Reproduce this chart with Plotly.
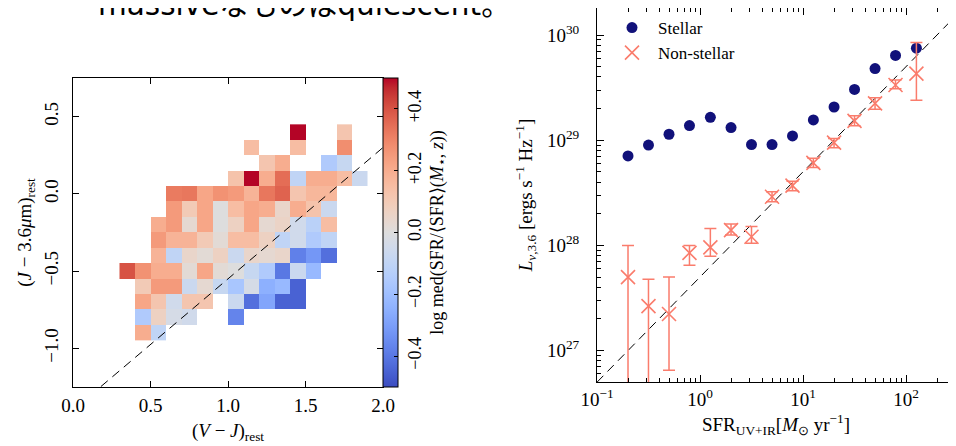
import plotly.graph_objects as go

# ---------------- data: left panel (binned median colour map) ----------------
vj_centers = [0.35, 0.45, 0.55, 0.65, 0.75, 0.85, 0.95, 1.05, 1.15, 1.25,
              1.35, 1.45, 1.55, 1.65, 1.75, 1.85]
jir_centers = [0.4, 0.3, 0.2, 0.1, 0.0, -0.1, -0.2, -0.3, -0.4, -0.5,
               -0.6, -0.7, -0.8, -0.9]
N = None
sfr_ratio = [
    [N, N, N, N, N, N, N, N, N, N, N, 0.50, N, N, 0.12, N],
    [N, N, N, N, N, N, N, N, 0.15, N, N, 0.15, N, N, 0.28, N],
    [N, N, N, N, N, N, N, N, N, 0.12, 0.20, N, N, -0.15, -0.08, N],
    [N, N, N, N, N, N, N, 0.13, 0.50, 0.20, 0.35, -0.10, 0.20, 0.20, 0.15, -0.07],
    [N, N, N, 0.32, 0.33, 0.22, 0.27, 0.25, 0.18, 0.33, 0.37, 0.12, 0.17, 0.17, N, N],
    [N, N, N, 0.25, 0.10, 0.22, 0.00, 0.15, 0.22, 0.20, 0.05, 0.20, 0.13, -0.07, N, N],
    [N, N, 0.20, 0.25, 0.03, 0.22, 0.00, 0.07, 0.22, 0.03, 0.06, -0.05, -0.12, 0.15, N, N],
    [N, N, 0.25, 0.18, 0.18, 0.10, 0.02, 0.15, 0.15, 0.07, -0.10, -0.05, -0.15, -0.10, N, N],
    [N, N, 0.18, -0.10, 0.05, 0.02, 0.07, -0.07, 0.05, 0.03, 0.05, -0.38, -0.32, -0.42, N, N],
    [0.40, 0.27, 0.20, 0.20, 0.02, 0.22, 0.02, 0.00, -0.08, -0.15, -0.40, -0.07, -0.22, N, N, N],
    [N, 0.10, 0.25, 0.25, -0.07, 0.03, -0.08, -0.17, -0.03, -0.25, -0.22, -0.45, N, N, N, N],
    [N, 0.22, 0.12, -0.05, 0.12, 0.12, N, -0.07, -0.42, -0.28, -0.45, -0.45, N, N, N, N],
    [N, -0.15, 0.07, -0.03, -0.05, N, N, -0.37, N, N, N, N, N, N, N, N],
    [N, 0.20, -0.10, N, N, N, N, N, N, N, N, N, N, N, N, N],
]
cbar_ticks = [-0.4, -0.2, 0.0, 0.2, 0.4]
cbar_ticktext = ["\u22120.4", "\u22120.2", "0.0", "+0.2", "+0.4"]
left_xticks = [0.0, 0.5, 1.0, 1.5, 2.0]
left_xticktext = ["0.0", "0.5", "1.0", "1.5", "2.0"]
left_yticks = [-1.0, -0.5, 0.0, 0.5]
left_yticktext = ["\u22121.0", "\u22120.5", "0.0", "0.5"]
# dashed separator: y = slope * x + intercept
sep_slope = 0.85
sep_intercept = -1.40
sep_x = [0.18, 2.0]

# ---------------- data: right panel ----------------
sfr = [0.2, 0.316, 0.5, 0.79, 1.26, 2.0, 3.16, 5.0, 7.9, 12.6, 20.0, 31.6, 50.0, 79.0, 126.0]
stellar = [7.1e28, 9.0e28, 1.14e29, 1.38e29, 1.65e29, 1.32e29, 9.1e28, 9.1e28,
           1.1e29, 1.56e29, 2.07e29, 3.04e29, 4.8e29, 6.4e29, 7.5e29]
nonstellar = [5.0e27, 2.65e27, 2.23e27, 8.5e27, 9.6e27, 1.40e28, 1.21e28, 2.9e28,
              3.7e28, 6.1e28, 9.5e28, 1.53e29, 2.24e29, 3.35e29, 4.3e29]
nonstellar_hi = [1.0e28, 4.77e27, 5.0e27, 1.0e28, 1.45e28, 1.6e28, 1.51e28, 3.24e28,
                 4.07e28, 6.76e28, 1.04e29, 1.71e29, 2.54e29, 3.73e29, 8.5e29]
nonstellar_lo = [1.0e26, 1.0e26, 6.5e26, 6.5e27, 7.9e27, 1.26e28, 1.05e28, 2.6e28,
                 3.31e28, 5.5e28, 8.5e28, 1.37e29, 1.97e29, 3.09e29, 2.4e29]
ref_ratio = 10 ** 27.7          # L = ref_ratio * SFR
ref_x = [0.1, 300.0]
right_xticks = [0.1, 1.0, 10.0, 100.0]
right_xticktext = ["10<sup>\u22121</sup>", "10<sup>0</sup>", "10<sup>1</sup>", "10<sup>2</sup>"]
right_yticks = [1e27, 1e28, 1e29, 1e30]
right_yticktext = ["10<sup>27</sup>", "10<sup>28</sup>", "10<sup>29</sup>", "10<sup>30</sup>"]

# coolwarm colour map
cw = [(59, 76, 192), (68, 90, 204), (77, 104, 215), (87, 117, 225), (98, 130, 234),
      (108, 142, 241), (119, 154, 247), (130, 165, 251), (141, 176, 254), (152, 185, 255),
      (163, 194, 255), (174, 201, 253), (184, 208, 249), (194, 213, 244), (204, 217, 238),
      (213, 219, 230), (221, 221, 221), (229, 216, 209), (236, 211, 197), (241, 204, 184),
      (245, 196, 173), (247, 187, 160), (247, 177, 148), (247, 166, 135), (244, 154, 123),
      (241, 141, 111), (236, 127, 99), (229, 112, 88), (222, 96, 77), (213, 80, 66),
      (203, 62, 56), (192, 40, 47), (180, 4, 38)]
coolwarm = [[i / (len(cw) - 1), "rgb(%d,%d,%d)" % c] for i, c in enumerate(cw)]

SERIF = "Liberation Serif"
W, H = 956, 446
OFF = 8  # page body margin offset
SALMON = "#fa7c6c"
NAVY = "#11117a"


def px(v):
    return (v - OFF) / W


def py(v):
    return 1 - (v - OFF) / H


minor_x = [float(m) * 10.0 ** e for e in (-1, 0, 1, 2) for m in range(2, 10)]
minor_y = [float(m) * 10.0 ** e for e in (26, 27, 28, 29, 30) for m in range(2, 10)]

fig = go.Figure()

fig.add_trace(go.Heatmap(
    x=vj_centers, y=jir_centers, z=sfr_ratio,
    colorscale=coolwarm, zmin=-0.5, zmax=0.5, hoverongaps=False,
    xaxis="x", yaxis="y",
    colorbar=dict(
        x=px(383), xanchor="left", xref="paper", xpad=0, ypad=0,
        y=py(232.5), yanchor="middle", len=309 / H, lenmode="fraction",
        thickness=15, thicknessmode="pixels",
        outlinewidth=1, outlinecolor="black",
        tickmode="array", tickvals=cbar_ticks, ticktext=cbar_ticktext,
        ticks="inside", ticklen=4, tickcolor="black", tickangle=-90,
        tickfont=dict(family=SERIF, size=18, color="black"),
        title=dict(text="log med(SFR/\u27e8SFR\u27e9(<i>M</i><sub>\u22c6</sub>, <i>z</i>))",
                   side="right", font=dict(family=SERIF, size=18, color="black")),
    ),
))

fig.add_trace(go.Scatter(
    x=sep_x, y=[sep_slope * v + sep_intercept for v in sep_x],
    mode="lines", line=dict(color="black", width=1, dash="9px,6px"),
    xaxis="x", yaxis="y", showlegend=False, hoverinfo="skip",
))

# right panel
fig.add_trace(go.Scatter(
    x=ref_x, y=[ref_ratio * v for v in ref_x],
    mode="lines", line=dict(color="black", width=1, dash="9px,6px"),
    xaxis="x2", yaxis="y2", showlegend=False, hoverinfo="skip",
))
fig.add_trace(go.Scatter(
    x=sfr, y=stellar, mode="markers", name="Stellar",
    marker=dict(symbol="circle", size=11, color=NAVY),
    xaxis="x2", yaxis="y2",
))
fig.add_trace(go.Scatter(
    x=sfr, y=nonstellar, mode="markers", name="Non-stellar",
    marker=dict(symbol="x-thin", size=14, color=SALMON, line=dict(color=SALMON, width=1.6)),
    error_y=dict(type="data", symmetric=False,
                 array=[h - v for h, v in zip(nonstellar_hi, nonstellar)],
                 arrayminus=[v - l for v, l in zip(nonstellar, nonstellar_lo)],
                 color=SALMON, thickness=1.5, width=6),
    xaxis="x2", yaxis="y2",
))

axis_common = dict(showline=True, linecolor="black", linewidth=1, mirror="allticks",
                   ticks="inside", tickcolor="black", showgrid=False, zeroline=False,
                   automargin=False,
                   tickfont=dict(family=SERIF, size=19, color="black"))

fig.update_layout(
    width=W, height=H, margin=dict(l=0, r=0, t=0, b=0, autoexpand=False),
    paper_bgcolor="white", plot_bgcolor="white",
    font=dict(family=SERIF, color="black"),
    xaxis=dict(domain=[px(73), px(383)], range=[0, 2], anchor="y",
               tickmode="array", tickvals=left_xticks, ticktext=left_xticktext, ticklen=6,
               ticklabelstandoff=1,
               title=dict(text="(<i>V</i> \u2212 <i>J</i>)<sub>rest</sub>", standoff=8,
                          font=dict(family=SERIF, size=19, color="black")),
               **axis_common),
    yaxis=dict(domain=[py(387), py(78)], range=[-1.25, 0.75], anchor="x",
               tickmode="array", tickvals=left_yticks, ticktext=left_yticktext, ticklen=6,
               tickangle=-90, ticklabelstandoff=6,
               title=dict(text="(<i>J</i> \u2212 3.6<i>\u03bc</i>m)<sub>rest</sub>", standoff=4,
                          font=dict(family=SERIF, size=19, color="black")),
               **axis_common),
    xaxis2=dict(domain=[px(597), px(955)], type="log", range=[-1, 2.475], anchor="y2",
                tickmode="array", tickvals=right_xticks, ticktext=right_xticktext, ticklen=7,
                ticklabelstandoff=0,
                minor=dict(ticks="inside", ticklen=4, tickcolor="black", tickvals=minor_x),
                title=dict(text="SFR<sub>UV+IR</sub>[<i>M</i><sub>\u2299</sub> yr<sup>\u22121</sup>]",
                           standoff=8, font=dict(family=SERIF, size=19, color="black")),
                **axis_common),
    yaxis2=dict(domain=[py(382), 1], type="log", range=[26.702, 30.257], anchor="x2",
                tickmode="array", tickvals=right_yticks, ticktext=right_yticktext, ticklen=7,
                ticklabelstandoff=13,
                minor=dict(ticks="inside", ticklen=4, tickcolor="black", tickvals=minor_y),
                title=dict(text="<i>L</i><sub><i>\u03bd</i>,3.6</sub> [ergs s<sup>\u22121</sup> Hz<sup>\u22121</sup>]",
                           standoff=9, font=dict(family=SERIF, size=19, color="black")),
                **axis_common),
    legend=dict(x=px(606), y=py(10), xanchor="left", yanchor="top",
                bgcolor="rgba(0,0,0,0)", font=dict(family=SERIF, size=17, color="black"),
                itemwidth=42, tracegroupgap=0),
    annotations=[dict(text="massive\u306a\u3082\u306e\u306fquiescent\u3002",
                      xref="paper", yref="paper", x=px(96), y=py(4.5),
                      xanchor="left", yanchor="middle", showarrow=False,
                      font=dict(family="DejaVu Sans, Noto Sans CJK JP", size=29.5, color="black"))],
)

fig.write_html("out.html")
